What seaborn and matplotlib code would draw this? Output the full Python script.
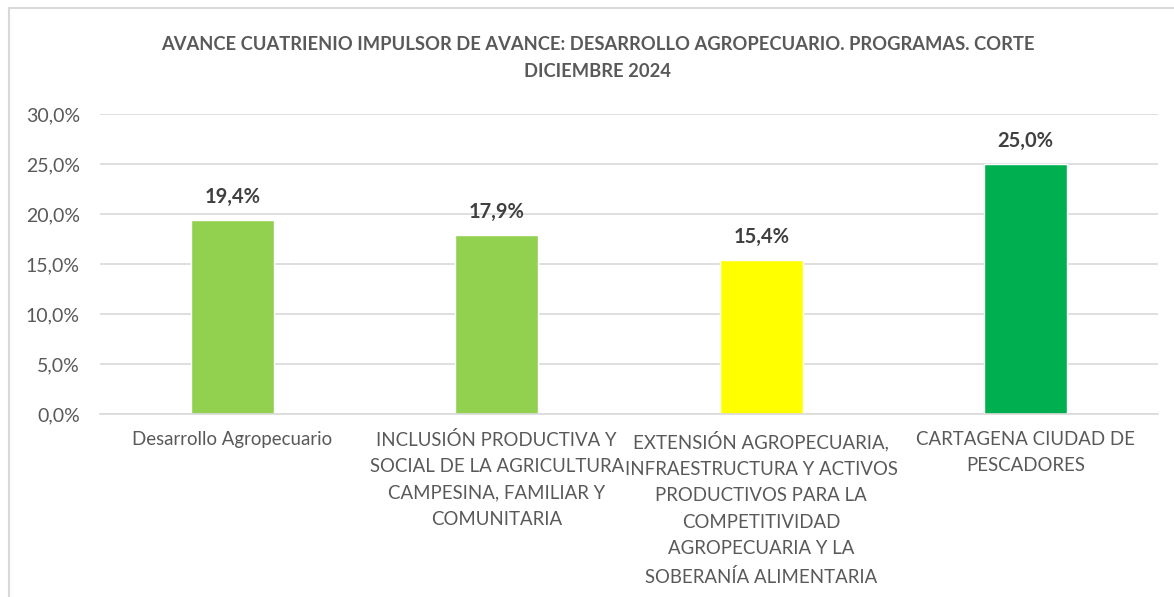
import matplotlib
matplotlib.use("Agg")
import matplotlib.pyplot as plt
import seaborn as sns
import pandas as pd
from matplotlib.patches import Rectangle
from matplotlib.ticker import FuncFormatter

categories = [
    "Desarrollo Agropecuario",
    "INCLUSIÓN PRODUCTIVA Y\nSOCIAL DE LA AGRICULTURA\nCAMPESINA, FAMILIAR Y\nCOMUNITARIA",
    "EXTENSIÓN AGROPECUARIA,\nINFRAESTRUCTURA Y ACTIVOS\nPRODUCTIVOS PARA LA\nCOMPETITIVIDAD\nAGROPECUARIA Y LA\nSOBERANÍA ALIMENTARIA",
    "CARTAGENA CIUDAD DE\nPESCADORES",
]
values = [19.4, 17.9, 15.4, 25.0]
colors = ["#92D050", "#92D050", "#FFFF00", "#00B050"]
title = "AVANCE CUATRIENIO IMPULSOR DE AVANCE: DESARROLLO AGROPECUARIO. PROGRAMAS. CORTE\nDICIEMBRE 2024"

sns.set_theme(style="white")
plt.rcParams["font.family"] = ["Lato", "DejaVu Sans"]

df = pd.DataFrame({"cat": categories, "val": values})

fig = plt.figure(figsize=(11.74, 5.97), dpi=100)
ax = fig.add_axes([100/1174, 1-414/597, 1058/1174, 300/597])

sns.barplot(data=df, x="cat", y="val", hue="cat", palette=colors, legend=False,
            width=0.315, ax=ax, saturation=1)

ax.set_ylim(0, 30)
ax.set_yticks([0, 5, 10, 15, 20, 25, 30])
ax.yaxis.set_major_formatter(FuncFormatter(lambda v, p: f"{v:.1f}%".replace(".", ",")))
ax.grid(axis="y", color="#D9D9D9", linewidth=1.2)
ax.set_axisbelow(True)
for s in ["top", "right", "left"]:
    ax.spines[s].set_visible(False)
ax.spines["bottom"].set_color("#D9D9D9")
ax.spines["bottom"].set_linewidth(1.2)
ax.set_xlabel("")
ax.set_ylabel("")
ax.tick_params(axis="both", length=0, colors="#595959")
ax.tick_params(axis="y", pad=14.5, labelsize=14)
ax.tick_params(axis="x", pad=12, labelsize=13.4)
for lab in ax.get_xticklabels():
    lab.set_linespacing(1.68)

for i, v in enumerate(values):
    ax.annotate(f"{v:.1f}%".replace(".", ","), (i, v), xytext=(0, 9.5), textcoords="offset points",
                ha="center", va="bottom", fontsize=14.5, fontweight="bold", color="#404040")

fig.text(598/1174, 1-58/597, title, ha="center", va="center", fontsize=13.2,
         fontweight="bold", color="#595959", linespacing=1.7)

fig.patches.append(Rectangle((9/1174, -0.1), 1.2, 1-8/597+0.1, transform=fig.transFigure,
                             fill=False, edgecolor="#D9D9D9", linewidth=1.5))

fig.savefig("out.png", dpi=100, facecolor="white")
